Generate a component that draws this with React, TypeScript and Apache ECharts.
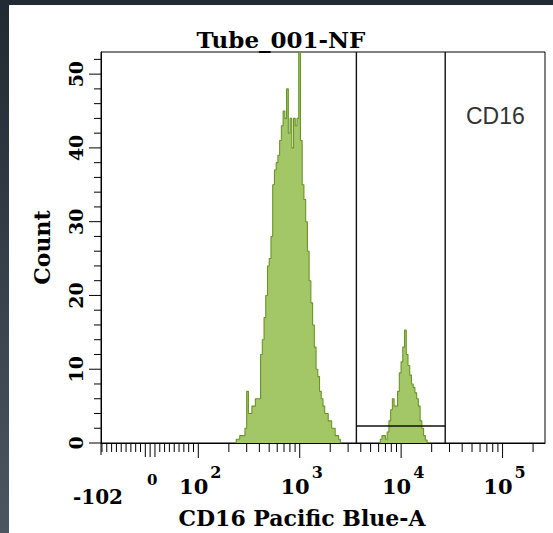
import React, { useEffect, useRef } from "react";
import * as echarts from "echarts";

// ---------- data ----------
const CHANNELS = 1024; // display channels across the x axis
const BIN_WIDTH = 4; // channels per histogram bin

const PEAK1_START_BIN = 78;
const PEAK1_COUNTS = [
  0.5, 0.5, 1, 1, 1, 2, 7, 4, 4, 5, 5, 6, 6, 6, 12, 14, 17, 20, 24, 25, 28, 35, 37, 38, 39, 41, 43, 45,
  44, 48, 42, 44, 40, 44, 43, 44, 53, 41, 35, 33, 30, 26, 22, 19, 16, 13, 10, 9, 7, 6, 5, 4, 4, 3, 3,
  2, 2, 1, 1, 0.5,
];
const PEAK2_START_BIN = 161;
const PEAK2_COUNTS = [
  0.5, 1, 1, 0.5, 1.5, 3, 4.5, 6, 5, 5, 7, 9.5, 11, 13, 15.3, 12, 10.5, 9.2, 8, 7.5, 6.8, 6, 5, 3, 2,
  1, 0.4,
];

const GATE_LOW = 3620;
const GATE_HIGH = 27200;
const GATE_LEVEL = 2.3;
const GATE_LABEL = "CD16";

const TITLE = "Tube_001-NF";
const X_TITLE = "CD16 Pacific Blue-A";
const Y_TITLE = "Count";

const X_MIN = -102;
const X_MAX = 262144;
const Y_MAX = 53;

const X_LINEAR_TICKS = [-100, -90, -80, -70, -60, -50, -40, -30, -20, 20, 30, 40, 50, 60, 70, 80, 90];
const X_LINEAR_LONG_TICKS = [-10, 0, 10];
const X_MAJOR_TICKS = [100, 1000, 10000, 100000];
const X_MINOR_TICKS = [
  200, 300, 400, 500, 600, 700, 800, 900, 2000, 3000, 4000, 5000, 6000, 7000, 8000, 9000, 20000, 30000,
  40000, 50000, 60000, 70000, 80000, 90000, 200000,
];
const X_LABEL_VALUES = [-102, 0, 100, 1000, 10000, 100000];
const X_LABEL_BASES = ["-102", "0", "10", "10", "10", "10"];
const X_LABEL_EXPONENTS = ["", "", "2", "3", "4", "5"];

const Y_MAJOR_TICKS = [0, 10, 20, 30, 40, 50];
const Y_MINOR_TICKS = [2, 4, 6, 8, 12, 14, 16, 18, 22, 24, 26, 28, 32, 34, 36, 38, 42, 44, 46, 48, 52];

// ---------- display transform (linear near zero, log above 100) ----------
const LIN_SLOPE = 0.00475; // decades per unit in the linear region
function toDecades(v: number) {
  return v >= 100 ? Math.log10(v) : 2 + (v - 100) * LIN_SLOPE;
}
const D_MIN = toDecades(X_MIN);
const D_MAX = toDecades(X_MAX);
function toChannel(v: number) {
  return ((toDecades(v) - D_MIN) / (D_MAX - D_MIN)) * CHANNELS;
}

const SERIF = "DejaVu Serif";
const FILL = "#a3c766";
const STROKE = "#6a9426";

function peakData(start: number, counts: number[]) {
  const pts: number[][] = [[(start - 1 + 0.5) * BIN_WIDTH, 0]];
  counts.forEach((c, i) => pts.push([(start + i + 0.5) * BIN_WIDTH, c]));
  pts.push([(start + counts.length + 0.5) * BIN_WIDTH, 0]);
  return pts;
}

export default function App() {
  const ref = useRef<HTMLDivElement>(null);
  useEffect(() => {
    if (!ref.current) return;
    const chart = echarts.init(ref.current, undefined, { renderer: "svg" });

    const xTickData: number[][] = [];
    X_LINEAR_TICKS.forEach((v) => xTickData.push([toChannel(v), 0, 9]));
    X_LINEAR_LONG_TICKS.forEach((v) => xTickData.push([toChannel(v), 0, 14]));
    X_MAJOR_TICKS.forEach((v) => xTickData.push([toChannel(v), 0, 15]));
    X_MINOR_TICKS.forEach((v) => xTickData.push([toChannel(v), 0, 9]));
    xTickData.push([toChannel(X_MIN), 0, 12]);

    const yTickData: number[][] = [];
    Y_MAJOR_TICKS.forEach((v) => yTickData.push([0, v, 12]));
    Y_MINOR_TICKS.forEach((v) => yTickData.push([0, v, 7]));

    const labelData = X_LABEL_VALUES.map((v, i) => [toChannel(v), 0, i]);

    const lo = toChannel(GATE_LOW);
    const hi = toChannel(GATE_HIGH);

    const gateLine = (data: number[][]) => ({
      type: "line",
      data,
      symbol: "none",
      silent: true,
      lineStyle: { color: "#111", width: 1.4 },
      z: 4,
    });

    const option: any = {
      animation: false,
      backgroundColor: "#ffffff",
      title: [
        {
          text: TITLE,
          left: 267,
          top: 18,
          textAlign: "center",
          textStyle: { fontFamily: SERIF, fontWeight: "bold", fontSize: 23, color: "#000" },
        },
        {
          text: X_TITLE,
          left: 288,
          top: 497,
          textAlign: "center",
          textStyle: { fontFamily: SERIF, fontWeight: "bold", fontSize: 22, color: "#000" },
        },
      ],
      grid: {
        left: 92,
        top: 47,
        right: 8,
        bottom: 90,
        show: true,
        borderColor: "#000",
        borderWidth: 1,
        backgroundColor: "transparent",
      },
      xAxis: {
        type: "value",
        min: 0,
        max: CHANNELS,
        axisLine: { show: true, lineStyle: { color: "#000", width: 1 } },
        axisTick: { show: false },
        axisLabel: { show: false },
        splitLine: { show: false },
      },
      yAxis: {
        type: "value",
        min: 0,
        max: Y_MAX,
        interval: 10,
        axisLine: { show: true, lineStyle: { color: "#000", width: 1 } },
        axisTick: { show: false },
        splitLine: { show: false },
        axisLabel: {
          rotate: 90,
          margin: 16,
          showMaxLabel: false,
          fontFamily: SERIF,
          fontWeight: "bold",
          fontSize: 19,
          color: "#000",
        },
        name: Y_TITLE,
        nameLocation: "middle",
        nameRotate: 90,
        nameGap: 48,
        nameTextStyle: { fontFamily: SERIF, fontWeight: "bold", fontSize: 22, color: "#000" },
      },
      graphic: [
        {
          type: "text",
          left: 457,
          top: 99,
          style: { text: GATE_LABEL, fontFamily: "Liberation Sans", fontSize: 23, fill: "#333" },
        },
      ],
      series: [
        {
          type: "line",
          step: "middle",
          data: peakData(PEAK1_START_BIN, PEAK1_COUNTS),
          symbol: "none",
          silent: true,
          lineStyle: { color: STROKE, width: 1.1 },
          areaStyle: { color: FILL, opacity: 1 },
          z: 2,
        },
        {
          type: "line",
          step: "middle",
          data: peakData(PEAK2_START_BIN, PEAK2_COUNTS),
          symbol: "none",
          silent: true,
          lineStyle: { color: STROKE, width: 1.1 },
          areaStyle: { color: FILL, opacity: 1 },
          z: 2,
        },
        gateLine([
          [lo, Y_MAX],
          [lo, 0],
        ]),
        gateLine([
          [hi, Y_MAX],
          [hi, 0],
        ]),
        gateLine([
          [lo, GATE_LEVEL],
          [hi, GATE_LEVEL],
        ]),
        {
          type: "custom",
          coordinateSystem: "cartesian2d",
          clip: false,
          silent: true,
          encode: { x: 0, y: 1 },
          data: xTickData,
          renderItem: (_p: any, api: any) => {
            const pt = api.coord([api.value(0), api.value(1)]);
            const len = api.value(2);
            return {
              type: "line",
              shape: { x1: pt[0], y1: pt[1], x2: pt[0], y2: pt[1] + len },
              style: { stroke: "#000", lineWidth: 1 },
            };
          },
          z: 5,
        },
        {
          type: "custom",
          coordinateSystem: "cartesian2d",
          clip: false,
          silent: true,
          encode: { x: 0, y: 1 },
          data: yTickData,
          renderItem: (_p: any, api: any) => {
            const pt = api.coord([api.value(0), api.value(1)]);
            const len = api.value(2);
            return {
              type: "line",
              shape: { x1: pt[0] - len, y1: pt[1], x2: pt[0], y2: pt[1] },
              style: { stroke: "#000", lineWidth: 1 },
            };
          },
          z: 5,
        },
        {
          type: "custom",
          coordinateSystem: "cartesian2d",
          clip: false,
          silent: true,
          encode: { x: 0, y: 1 },
          data: labelData,
          renderItem: (_p: any, api: any) => {
            const pt = api.coord([api.value(0), api.value(1)]);
            const i = api.value(2);
            const base = X_LABEL_BASES[i];
            const sup = X_LABEL_EXPONENTS[i];
            const mk = (text: string, x: number, y: number, size: number, align: string) => ({
              type: "text",
              x,
              y,
              style: {
                text,
                fontFamily: SERIF,
                fontWeight: "bold",
                fontSize: size,
                fill: "#000",
                align,
                textAlign: align,
                verticalAlign: "middle",
                textVerticalAlign: "middle",
              },
            });
            if (!sup) {
              if (base === "0") return mk(base, pt[0] + 2, pt[1] + 37, 15, "center");
              return mk(base, pt[0] - 3, pt[1] + 54, 20, "center");
            }
            return {
              type: "group",
              children: [
                mk(base, pt[0] + 10, pt[1] + 43, 21, "right"),
                mk(sup, pt[0] + 12, pt[1] + 29, 16, "left"),
              ],
            };
          },
          z: 5,
        },
      ],
    };
    chart.setOption(option);
    return () => chart.dispose();
  }, []);

  return (
    <div
      style={{
        position: "fixed",
        left: 0,
        top: 0,
        width: 553,
        height: 533,
        background: "linear-gradient(to bottom, #212932, #4b5661)",
      }}
    >
      <div
        ref={ref}
        style={{ position: "absolute", left: 9, top: 5, width: 544, height: 528, background: "#fff" }}
      />
    </div>
  );
}
